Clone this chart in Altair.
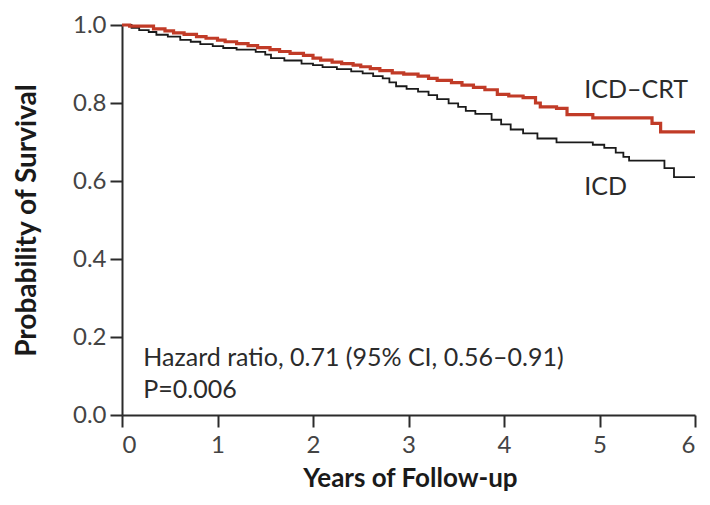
import altair as alt
import pandas as pd

# Kaplan-Meier estimates (years, probability of survival)
crt_t = [0.00, 0.08, 0.33, 0.45, 0.54, 0.65, 0.78, 0.88, 1.00, 1.08, 1.20, 1.32,
         1.42, 1.55, 1.65, 1.76, 1.90, 2.00, 2.08, 2.20, 2.30, 2.42, 2.50, 2.60,
         2.70, 2.83, 2.95, 3.10, 3.21, 3.30, 3.45, 3.56, 3.68, 3.80, 3.93, 4.05,
         4.20, 4.33, 4.38, 4.55, 4.66, 4.93, 5.55, 5.64, 6.00]
crt_s = [1.000, 0.997, 0.990, 0.985, 0.980, 0.976, 0.970, 0.966, 0.961, 0.957, 0.952, 0.947,
         0.942, 0.937, 0.932, 0.927, 0.922, 0.915, 0.910, 0.905, 0.901, 0.897, 0.893, 0.888,
         0.883, 0.877, 0.874, 0.869, 0.863, 0.858, 0.852, 0.846, 0.840, 0.834, 0.822, 0.818,
         0.814, 0.800, 0.790, 0.786, 0.770, 0.762, 0.748, 0.726, 0.726]

icd_t = [0.00, 0.10, 0.18, 0.28, 0.36, 0.48, 0.61, 0.72, 0.82, 0.95, 1.06, 1.20,
         1.40, 1.50, 1.56, 1.70, 1.88, 2.00, 2.10, 2.25, 2.40, 2.52, 2.63, 2.73,
         2.80, 2.87, 2.98, 3.10, 3.21, 3.30, 3.42, 3.52, 3.60, 3.70, 3.87, 3.97,
         4.07, 4.20, 4.35, 4.55, 4.93, 5.05, 5.17, 5.25, 5.31, 5.68, 5.78, 6.00]
icd_s = [1.000, 0.993, 0.987, 0.982, 0.975, 0.970, 0.962, 0.957, 0.951, 0.946, 0.941, 0.937,
         0.931, 0.924, 0.915, 0.909, 0.901, 0.897, 0.892, 0.887, 0.881, 0.876, 0.869, 0.863,
         0.853, 0.843, 0.836, 0.829, 0.820, 0.810, 0.799, 0.790, 0.780, 0.772, 0.757, 0.745,
         0.732, 0.722, 0.709, 0.699, 0.693, 0.685, 0.673, 0.662, 0.652, 0.633, 0.610, 0.610]

x_ticks = [0, 1, 2, 3, 4, 5, 6]
y_ticks = [0.0, 0.2, 0.4, 0.6, 0.8, 1.0]

label_text = ["ICD\u2013CRT", "ICD"]
label_x = [4.84, 4.84]
label_y = [0.814, 0.564]

note_text = ["Hazard ratio, 0.71 (95% CI, 0.56\u20130.91)", "P=0.006"]
note_x = [0.223, 0.223]
note_y = [0.126, 0.043]

FONT = "Lato"
RED = "#C13B27"
INK = "#2b2b2b"

crt = pd.DataFrame({"t": crt_t, "s": crt_s})
icd = pd.DataFrame({"t": icd_t, "s": icd_s})
labels = pd.DataFrame({"x": label_x, "y": label_y, "text": label_text})
notes = pd.DataFrame({"x": note_x, "y": note_y, "text": note_text})

xscale = alt.Scale(domain=[0, 6], nice=False, zero=False)
yscale = alt.Scale(domain=[0, 1], nice=False)

xaxis = alt.Axis(values=x_ticks, format="d", title="Years of Follow-up",
                 grid=False, tickSize=12, labelPadding=6,
                 titleFontSize=26,
                 titleX=288, titleY=71, titleBaseline="alphabetic", titleAlign="center")
yaxis = alt.Axis(values=y_ticks, format=".1f", title="Probability of Survival",
                 grid=False, tickSize=12, labelPadding=4,
                 titleFontSize=28,
                 titleX=-87, titleY=195, titleAngle=-90, titleBaseline="alphabetic",
                 titleAlign="center")

base_x = alt.X("t:Q", scale=xscale, axis=xaxis)
base_y = alt.Y("s:Q", scale=yscale, axis=yaxis)

icd_line = alt.Chart(icd).mark_line(interpolate="step-after", color="#1a1a1a",
                                    strokeWidth=1.8).encode(x=base_x, y=base_y)
crt_line = alt.Chart(crt).mark_line(interpolate="step-after", color=RED,
                                    strokeWidth=3.2).encode(x=base_x, y=base_y)

label_layer = alt.Chart(labels).mark_text(align="left", baseline="alphabetic",
                                          font=FONT, fontSize=25, color=INK).encode(
    x=alt.X("x:Q", scale=xscale), y=alt.Y("y:Q", scale=yscale), text="text:N")
note_layer = alt.Chart(notes).mark_text(align="left", baseline="alphabetic",
                                        font=FONT, fontSize=25, color=INK).encode(
    x=alt.X("x:Q", scale=xscale), y=alt.Y("y:Q", scale=yscale), text="text:N")

chart = alt.layer(icd_line, crt_line, label_layer, note_layer).properties(
    width=573, height=390,
    autosize=alt.AutoSizeParams(type="none"),
    padding={"left": 114, "top": 17, "right": 7, "bottom": 77},
).configure_view(stroke=None).configure_axis(
    domainColor=INK, domainWidth=2, tickColor=INK, tickWidth=2,
    labelFont=FONT, labelFontSize=24, labelColor="#444444",
    titleFont=FONT, titleFontWeight="bold", titleColor="#1a1a1a",
)

chart.save("out.html", embed_options={"renderer": "svg", "actions": False})
